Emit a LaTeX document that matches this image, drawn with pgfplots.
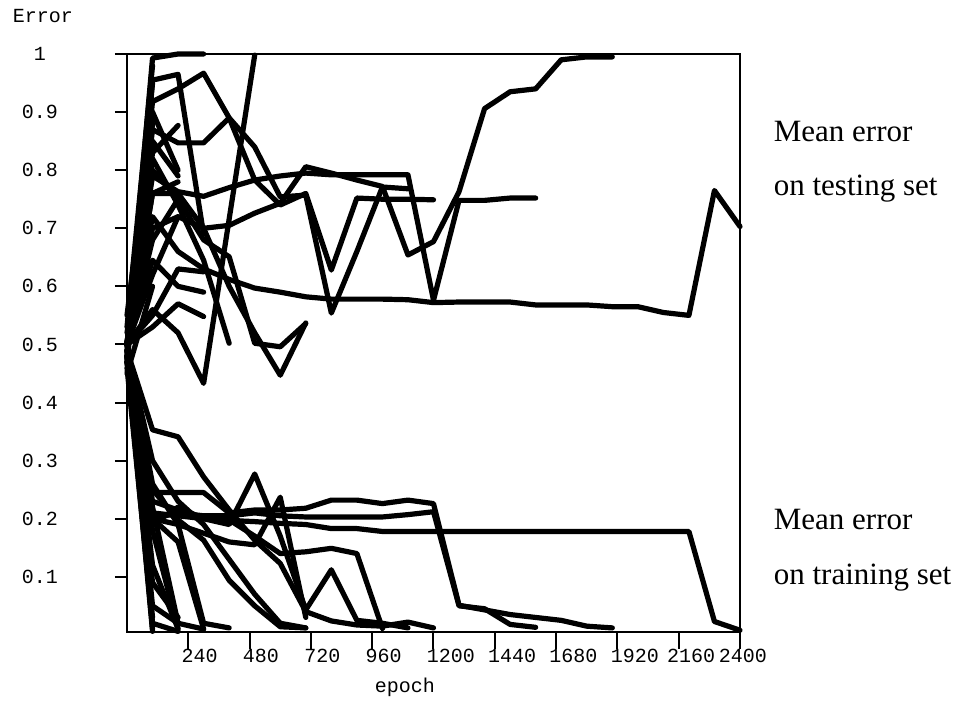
\documentclass[border=0pt]{standalone}
\usepackage{fontspec}
\setmainfont{Liberation Serif}
\setmonofont{Liberation Mono}
\usepackage{pgfplots}
\pgfplotsset{compat=1.18}
\begin{document}
\begin{tikzpicture}
\begin{axis}[
  scale only axis, width=306.5pt, height=288.9pt,
  xmin=0, xmax=2400, ymin=0.0053, ymax=1,
  axis line style={line width=1pt},
  clip=false,
  tick align=outside, tick pos=left,
  major tick length=6pt,
  tick style={line width=1pt, black},
  xtick={240,480,720,960,1200,1440,1680,1920,2160,2400},
  xticklabels={},
  xtick style={draw=none},
  ytick={0.1,0.2,0.3,0.4,0.5,0.6,0.7,0.8,0.9,1},
  yticklabels={0.1,0.2,0.3,0.4,0.5,0.6,0.7,0.8,0.9,1},
  ticklabel style={font=\ttfamily\fontsize{10}{12}\selectfont},
  /pgf/number format/assume math mode=true,
  yticklabel style={anchor=center, xshift=-37.5pt},
  cycle list={{black,mark=none}},
  every axis plot/.append style={line width=2.6pt, line join=round, line cap=round},
]
\coordinate (SW) at (rel axis cs:0,0);
\coordinate (NE) at (rel axis cs:1,1);
\coordinate (TL) at (rel axis cs:0,1);
\pgfplotsinvokeforeach{240,480,720,960,1200,1440,1680,1920,2160,2400}{
  \draw[line width=1pt] (axis cs:#1,0.0053) -- ++(0,-7pt);
}
\pgfplotsinvokeforeach{240,480,720,960,1200,1440,1680,1920}{
  \node[anchor=west, inner sep=0pt, font=\ttfamily\fontsize{10}{12}\selectfont] at ([xshift=-3.5pt,yshift=-12pt]axis cs:#1,0.0053) {#1};
}
\node[anchor=west, inner sep=0pt, font=\ttfamily\fontsize{10}{12}\selectfont] at ([xshift=-6pt,yshift=-12pt]axis cs:2160,0.0053) {2160};
\node[anchor=center, inner sep=0pt, font=\ttfamily\fontsize{10}{12}\selectfont] at ([xshift=1.5pt,yshift=-12pt]axis cs:2400,0.0053) {2400};
% ---- testing set ----
\addplot coordinates {(0,0.5)(100,0.76)(200,0.76)(300,0.70)(400,0.705)(500,0.726)(600,0.743)(700,0.806)(800,0.795)(900,0.783)(1000,0.772)(1100,0.654)(1200,0.677)(1300,0.763)(1400,0.906)(1500,0.935)(1600,0.94)(1700,0.99)(1800,0.995)(1900,0.995)};
\addplot coordinates {(0,0.5)(100,0.79)(200,0.763)(300,0.755)(400,0.77)(500,0.783)(600,0.79)(700,0.795)(800,0.792)(900,0.792)(1000,0.792)(1100,0.792)(1200,0.576)(1300,0.748)(1400,0.748)(1500,0.752)(1600,0.752)};
\addplot coordinates {(0,0.5)(100,0.72)(200,0.66)(300,0.63)(400,0.612)(500,0.597)(600,0.59)(700,0.582)(800,0.578)(900,0.578)(1000,0.578)(1100,0.577)(1200,0.572)(1300,0.573)(1400,0.573)(1500,0.573)(1600,0.568)(1700,0.568)(1800,0.568)(1900,0.565)(2000,0.565)(2100,0.555)(2200,0.55)(2300,0.765)(2400,0.703)};
\addplot coordinates {(0,0.5)(100,0.56)(200,0.52)(300,0.433)(400,0.716)(500,0.998)};
\addplot coordinates {(0,0.5)(100,0.993)(200,1.0)(300,1.0)};
\addplot coordinates {(0,0.5)(100,0.955)(200,0.965)(300,0.69)};
\addplot coordinates {(0,0.5)(100,0.918)(200,0.94)(300,0.967)(400,0.89)(500,0.84)(600,0.754)(700,0.757)(800,0.554)(900,0.66)(1000,0.771)(1100,0.768)};
\addplot coordinates {(0,0.5)(100,0.87)(200,0.847)(300,0.847)(400,0.89)(500,0.783)(600,0.74)(700,0.76)(800,0.628)(900,0.752)(1000,0.75)(1100,0.75)(1200,0.749)};
\addplot coordinates {(0,0.5)(100,0.645)(200,0.6)(300,0.59)};
\addplot coordinates {(0,0.5)(100,0.55)(200,0.63)(300,0.625)};
\addplot coordinates {(0,0.5)(100,0.53)(200,0.57)(300,0.548)};
\addplot coordinates {(0,0.5)(100,0.82)(200,0.74)(300,0.645)(400,0.502)};
\addplot coordinates {(0,0.5)(100,0.8)(200,0.75)(300,0.68)(400,0.651)(500,0.502)(600,0.496)(700,0.536)};
\addplot coordinates {(0,0.5)(100,0.7)(200,0.72)(300,0.7)(400,0.6)(500,0.52)(600,0.447)(700,0.537)};
\addplot coordinates {(0,0.5)(100,0.83)(200,0.877)};
\addplot coordinates {(0,0.5)(100,0.85)(200,0.79)};
\addplot coordinates {(0,0.5)(100,0.9)(200,0.8)};
\addplot coordinates {(0,0.5)(100,0.76)(200,0.78)};
\addplot coordinates {(0,0.5)(100,0.68)(200,0.75)};
\addplot coordinates {(0,0.5)(100,0.62)(200,0.72)};
\addplot coordinates {(0,0.48)(100,0.95)};
\addplot coordinates {(0,0.47)(100,0.88)};
\addplot coordinates {(0,0.52)(100,0.8)};
\addplot coordinates {(0,0.55)(100,0.9)};
\addplot coordinates {(0,0.45)(100,0.6)};
\addplot coordinates {(0,0.53)(100,0.98)};
% ---- training set ----
\addplot coordinates {(0,0.49)(100,0.353)(200,0.341)(300,0.272)(400,0.215)(500,0.163)(600,0.123)(700,0.04)(800,0.024)(900,0.017)(1000,0.015)(1100,0.022)(1200,0.012)};
\addplot coordinates {(0,0.48)(100,0.21)(200,0.205)(300,0.2)(400,0.197)(500,0.195)(600,0.192)(700,0.19)(800,0.183)(900,0.183)(1000,0.178)(1100,0.178)(1200,0.178)(1300,0.178)(1400,0.178)(1500,0.178)(1600,0.178)(1700,0.178)(1800,0.178)(1900,0.178)(2000,0.178)(2100,0.178)(2200,0.178)(2300,0.023)(2400,0.008)};
\addplot coordinates {(0,0.47)(100,0.245)(200,0.245)(300,0.245)(400,0.21)(500,0.215)(600,0.215)(700,0.218)(800,0.232)(900,0.232)(1000,0.226)(1100,0.232)(1200,0.226)(1300,0.051)(1400,0.043)(1500,0.035)(1600,0.03)(1700,0.025)(1800,0.015)(1900,0.012)};
\addplot coordinates {(0,0.48)(100,0.2)(200,0.21)(300,0.205)(400,0.205)(500,0.21)(600,0.205)(700,0.203)(800,0.203)(900,0.203)(1000,0.203)(1100,0.207)(1200,0.212)(1300,0.05)(1400,0.045)(1500,0.018)(1600,0.013)};
\addplot coordinates {(0,0.47)(100,0.19)(200,0.22)(300,0.2)(400,0.19)(500,0.277)(600,0.17)(700,0.043)(800,0.112)(900,0.025)(1000,0.02)(1100,0.012)};
\addplot coordinates {(0,0.48)(100,0.23)(200,0.215)(300,0.2)(400,0.198)(500,0.17)(600,0.14)(700,0.143)(800,0.149)(900,0.14)(1000,0.011)};
\addplot coordinates {(0,0.5)(100,0.2)(200,0.19)(300,0.175)(400,0.16)(500,0.155)(600,0.237)(700,0.03)};
\addplot coordinates {(0,0.49)(100,0.3)(200,0.23)(300,0.19)(400,0.13)(500,0.07)(600,0.02)(700,0.012)};
\addplot coordinates {(0,0.48)(100,0.25)(200,0.198)(300,0.163)(400,0.094)(500,0.05)(600,0.014)(700,0.012)};
\addplot coordinates {(0,0.49)(100,0.26)(200,0.19)(300,0.02)(400,0.012)};
\addplot coordinates {(0,0.48)(100,0.2)(200,0.16)(300,0.01)};
\addplot coordinates {(0,0.47)(100,0.22)(200,0.02)(300,0.01)};
\addplot coordinates {(0,0.49)(100,0.05)(200,0.02)};
\addplot coordinates {(0,0.5)(100,0.01)};
\addplot coordinates {(0,0.46)(100,0.02)(200,0.006)};
\addplot coordinates {(0,0.48)(100,0.006)};
\addplot coordinates {(0,0.49)(100,0.12)(200,0.01)};
\addplot coordinates {(0,0.47)(100,0.03)};
\addplot coordinates {(0,0.5)(100,0.18)(200,0.01)};
\addplot coordinates {(0,0.48)(100,0.09)(200,0.03)};
% annotations
\node[anchor=west, font=\fontsize{15.5}{18}\selectfont] at (axis cs:2505,0.867) {Mean error};
\node[anchor=west, font=\fontsize{15.5}{18}\selectfont] at (axis cs:2505,0.769) {on testing set};
\node[anchor=west, font=\fontsize{15.5}{18}\selectfont] at (axis cs:2505,0.198) {Mean error};
\node[anchor=west, font=\fontsize{15.5}{18}\selectfont] at (axis cs:2505,0.098) {on training set};
\end{axis}
\node[font=\ttfamily\fontsize{10}{12}\selectfont] at ([xshift=-42pt,yshift=19pt]TL) {Error};
\node[font=\ttfamily\fontsize{10}{12}\selectfont] at ([xshift=139pt,yshift=-28pt]SW) {epoch};
\pgfresetboundingbox
\path[use as bounding box] ([shift={(-63.5pt,-45.65pt)}]SW) rectangle ([shift={(112pt,27pt)}]NE);
\end{tikzpicture}
\end{document}
